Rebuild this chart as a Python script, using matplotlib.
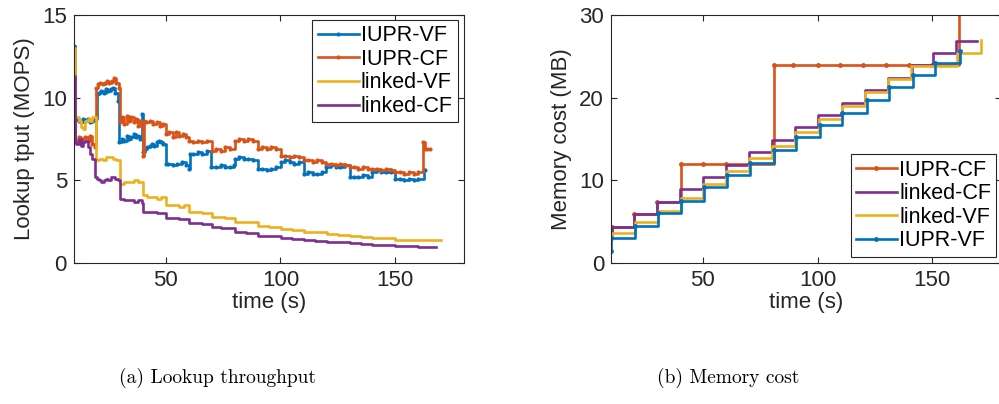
import numpy as np
import matplotlib
matplotlib.use("Agg")
import matplotlib.pyplot as plt

plt.rcParams["font.family"] = ["Liberation Sans", "DejaVu Sans"]

C_BLUE   = "#0072BD"
C_ORANGE = "#D95319"
C_YELLOW = "#EDB120"
C_PURPLE = "#7E2F8E"
C_AXIS   = "#262626"

# (a) lookup throughput, (time s, MOPS)
tput_iupr_vf = [
    (10.0, 13.1), (10.4, 8.8), (11, 8.7), (12, 8.6), (13, 8.5), (14, 8.7), (15, 8.6),
    (16, 8.7), (17, 8.5), (18, 8.6), (19, 8.7), (20.2, 10.2), (21, 10.3), (22, 10.4),
    (23, 10.3), (24, 10.5), (25, 10.4), (26, 10.5), (27, 10.6), (28, 10.3), (29, 9.8),
    (29.8, 7.3), (31, 7.5), (32, 7.4), (33, 7.7), (34, 7.5), (35, 7.6), (36, 7.8),
    (37, 7.6), (38, 7.7), (39, 7.5), (39.8, 9.0), (40.2, 6.7), (41, 6.9), (42, 7.0),
    (43, 7.1), (44, 7.2), (45, 7.1), (46, 7.3), (47, 7.4), (48, 7.3), (49, 7.2),
    (50.1, 6.0), (51, 6.0), (53, 5.9), (55, 6.0), (57, 6.1), (59, 5.9), (60.1, 5.7),
    (60.5, 6.6), (62, 6.6), (64, 6.7), (66, 6.6), (68, 6.8), (69.9, 5.8), (72, 5.8),
    (74, 5.9), (76, 5.8), (78, 5.8), (79.9, 5.9), (80.3, 6.3), (82, 6.4), (84, 6.3),
    (86, 6.3), (88, 6.2), (90.1, 5.7), (92, 5.7), (94, 5.6), (96, 5.7), (98, 5.8),
    (100.1, 6.1), (102, 6.2), (104, 6.1), (106, 6.0), (108, 6.1), (110.1, 5.4),
    (112, 5.5), (114, 5.4), (116, 5.4), (118, 5.5), (119.9, 5.8), (122, 5.9), (124, 5.8),
    (126, 5.8), (128, 5.9), (130.1, 5.2), (132, 5.2), (134, 5.2), (136, 5.3), (138, 5.2),
    (140.1, 5.5), (142, 5.6), (144, 5.5), (146, 5.5), (148, 5.5), (150.1, 5.1),
    (152, 5.1), (154, 5.0), (156, 5.1), (158, 5.0), (160, 5.1), (162.5, 5.6), (163, 5.6),
]
tput_iupr_cf = [
    (10.0, 11.8), (10.4, 7.5), (11, 7.4), (12, 7.6), (13, 7.3), (14, 7.5), (15, 7.6),
    (16, 7.4), (17, 7.7), (18, 7.2), (19, 7.0), (19.6, 10.6), (20.5, 10.8), (21.5, 10.9),
    (22.5, 10.8), (23.5, 10.9), (24.5, 11.0), (25.5, 10.9), (26.5, 11.0), (27.5, 11.2),
    (28.5, 10.9), (29.5, 10.6), (30.0, 8.5), (31, 8.8), (32, 8.4), (33, 8.9), (34, 8.6),
    (35, 8.8), (36, 8.5), (37, 8.7), (38, 8.3), (39, 8.6), (40.0, 6.5), (40.5, 8.6),
    (41.5, 8.5), (43, 8.6), (44.5, 8.4), (46, 8.5), (47.5, 8.3), (49, 8.4), (50.1, 7.8),
    (51.5, 7.9), (53, 7.6), (54.5, 7.9), (56, 7.7), (57.5, 7.8), (59, 7.6), (60.1, 7.4),
    (62, 7.3), (64, 7.4), (66, 7.3), (68, 7.4), (70.0, 6.8), (72, 6.9), (74, 6.8),
    (76, 7.0), (78, 6.9), (80.3, 7.4), (82, 7.5), (84, 7.4), (86, 7.5), (88, 7.4),
    (90.1, 6.9), (92, 7.0), (94, 6.9), (96, 7.0), (98, 6.9), (100.1, 6.5), (102, 6.5),
    (104, 6.4), (106, 6.5), (108, 6.4), (110.1, 6.2), (112, 6.2), (114, 6.1), (116, 6.2),
    (118, 6.1), (120, 6.0), (122, 6.0), (124, 5.9), (126, 6.0), (128, 5.9), (130.1, 5.8),
    (132, 5.8), (134, 5.7), (136, 5.8), (138, 5.7), (140.1, 5.7), (142, 5.7), (144, 5.6),
    (146, 5.7), (148, 5.6), (150.1, 5.5), (152, 5.5), (154, 5.4), (156, 5.5), (158, 5.4),
    (160, 5.5), (162.3, 7.3), (163, 6.9), (164, 6.9), (165, 6.9),
]
tput_linked_vf = [
    (10.0, 13.0), (10.4, 8.8), (11, 8.8), (12, 8.6), (13, 8.2), (14, 8.1), (15, 8.6),
    (16, 8.7), (17, 8.6), (18, 8.8), (19.6, 6.2), (21, 6.3), (22.5, 6.2), (24, 6.4),
    (25.5, 6.4), (27, 6.3), (28.5, 6.2), (30.0, 4.8), (32, 4.9), (34, 4.9), (36, 5.0),
    (38, 4.9), (40.0, 4.1), (42, 4.0), (44, 4.0), (46, 3.9), (48, 4.0), (50.1, 3.5),
    (53, 3.5), (56, 3.4), (58, 3.5), (60.1, 3.1), (63, 3.1), (66, 3.0), (68, 3.0),
    (70.0, 2.8), (73, 2.8), (76, 2.7), (80.1, 2.5), (83, 2.5), (86, 2.45), (90.1, 2.25),
    (95, 2.2), (100.1, 2.05), (105, 2.0), (110.1, 1.9), (115, 1.85), (120.1, 1.75),
    (125, 1.72), (130.1, 1.62), (135, 1.6), (140.1, 1.52), (145, 1.5), (150.1, 1.42),
    (155, 1.4), (160.1, 1.37), (170, 1.37),
]
tput_linked_cf = [
    (10.0, 11.3), (10.4, 7.3), (11, 7.2), (12, 7.5), (13, 7.1), (14, 7.3), (15, 7.4),
    (16, 7.0), (17, 6.6), (18, 6.3), (19.0, 5.2), (20, 5.1), (21, 5.0), (22, 4.9),
    (23, 5.0), (24, 5.1), (25, 5.0), (26, 5.2), (27, 5.2), (28, 5.1), (29, 5.0),
    (30.0, 3.9), (32, 3.8), (34, 3.8), (36, 3.7), (38, 3.8), (39.5, 3.6), (40.2, 3.1),
    (43, 3.1), (46, 3.0), (48, 3.0), (50.1, 2.7), (53, 2.7), (56, 2.65), (60.1, 2.4),
    (63, 2.4), (66, 2.35), (70.0, 2.15), (74, 2.1), (80.1, 1.85), (85, 1.8), (90.1, 1.65),
    (95, 1.62), (100.1, 1.5), (105, 1.48), (110.1, 1.38), (115, 1.36), (120.1, 1.28),
    (125, 1.25), (130.1, 1.18), (135, 1.15), (140.1, 1.1), (145, 1.08), (150.1, 1.03),
    (155, 1.0), (160.1, 0.97), (168, 0.97),
]

# (b) memory cost, step series: start time of each level and level (MB)
mem_iupr_cf_t = [10, 10.3, 20, 30, 40.4, 50, 60, 70, 80.9, 89.3, 100.3, 109.7, 120, 130, 140, 150, 161.7]
mem_iupr_cf_v = [3.0, 4.4, 5.9, 7.4, 12.0, 12.0, 12.0, 12.0, 24.0, 24.0, 24.0, 24.0, 24.0, 24.0, 24.0, 24.0, 32.0]
mem_linked_cf_t = [10, 10.3, 20, 30, 40.2, 50.2, 60.2, 70.3, 80.2, 90.3, 100.3, 110.5, 120.8, 130.8, 141.0, 150.5, 160.5, 169.7]
mem_linked_cf_v = [3.0, 4.4, 5.9, 7.4, 8.9, 10.4, 11.9, 13.4, 14.9, 16.4, 17.9, 19.4, 20.9, 22.4, 23.9, 25.4, 26.9, 26.9]
mem_linked_vf_t = [10, 10.5, 20.3, 30.3, 40.3, 50.3, 60.3, 70.3, 80.3, 90.3, 100.5, 110.5, 120.8, 130.8, 140.8, 161.0, 171.3]
mem_linked_vf_v = [2.9, 3.6, 4.9, 6.3, 7.9, 9.5, 11.1, 12.7, 14.2, 15.9, 17.4, 19.0, 20.7, 22.3, 23.8, 25.4, 27.0]
mem_iupr_vf_t = [10, 10.1, 20.3, 30.3, 40.5, 50.4, 60.5, 70.6, 80.9, 90.7, 101.2, 110.8, 121.4, 131.2, 141.8, 151.2, 162.3]
mem_iupr_vf_v = [1.5, 3.0, 4.5, 6.1, 7.55, 9.15, 10.65, 12.15, 13.65, 15.2, 16.65, 18.2, 19.7, 21.25, 22.7, 24.2, 25.7]

FS = 16


def _style(ax):
    for s in ax.spines.values():
        s.set_color(C_AXIS)
        s.set_linewidth(0.8)
    ax.tick_params(direction="in", length=4, width=0.8, colors=C_AXIS,
                   top=True, right=True, labelsize=FS, pad=5)


def _legend(ax, loc, anchor):
    leg = ax.legend(loc=loc, bbox_to_anchor=anchor, fontsize=15.5, handlelength=1.9,
                    handletextpad=0.1, borderpad=0.25, labelspacing=0.12,
                    borderaxespad=0.0, fancybox=False, framealpha=1.0)
    leg.get_frame().set_edgecolor(C_AXIS)
    leg.get_frame().set_linewidth(0.8)


fig = plt.figure(figsize=(9.99, 4.04), dpi=100)
ax1 = fig.add_axes([0.074, 0.349, 0.3905, 0.614])
ax2 = fig.add_axes([0.6116, 0.349, 0.3905, 0.614])

series = [
    (tput_iupr_vf, C_BLUE, "IUPR-VF", True),
    (tput_iupr_cf, C_ORANGE, "IUPR-CF", True),
    (tput_linked_vf, C_YELLOW, "linked-VF", False),
    (tput_linked_cf, C_PURPLE, "linked-CF", False),
]
for pts, col, lab, dots in series:
    t, v = np.array(pts).T
    ax1.plot(t, v, drawstyle="steps-post", color=col, lw=1.9, label=lab,
             marker="." if dots else None, markersize=4)
ax1.set_xlim(10, 180)
ax1.set_ylim(0, 15)
ax1.set_xticks([50, 100, 150])
ax1.set_yticks([0, 5, 10, 15])
ax1.set_xlabel("time (s)", fontsize=FS, color=C_AXIS, labelpad=1)
ax1.set_ylabel("Lookup tput (MOPS)", fontsize=FS, color=C_AXIS, labelpad=5)
_style(ax1)
_legend(ax1, "upper right", (0.985, 0.98))

mem = [
    (mem_iupr_cf_t, mem_iupr_cf_v, C_ORANGE, "IUPR-CF", True),
    (mem_linked_cf_t, mem_linked_cf_v, C_PURPLE, "linked-CF", False),
    (mem_linked_vf_t, mem_linked_vf_v, C_YELLOW, "linked-VF", False),
    (mem_iupr_vf_t, mem_iupr_vf_v, C_BLUE, "IUPR-VF", True),
]
for t, v, col, lab, dots in mem:
    ax2.plot(t, v, drawstyle="steps-post", color=col, lw=1.9, label=lab,
             marker="." if dots else None, markersize=5)
ax2.set_xlim(10, 180)
ax2.set_ylim(0, 30)
ax2.set_xticks([50, 100, 150])
ax2.set_yticks([0, 10, 20, 30])
ax2.set_xlabel("time (s)", fontsize=FS, color=C_AXIS, labelpad=1)
ax2.set_ylabel("Memory cost (MB)", fontsize=FS, color=C_AXIS, labelpad=5)
_style(ax2)
_legend(ax2, "lower right", (0.988, 0.025))

fig.text(0.218, 0.064, "(a) Lookup throughput", family="cmr10", fontsize=14,
         ha="center", va="center")
fig.text(0.729, 0.064, "(b) Memory cost", family="cmr10", fontsize=14,
         ha="center", va="center")

fig.savefig("out.png", dpi=100)
